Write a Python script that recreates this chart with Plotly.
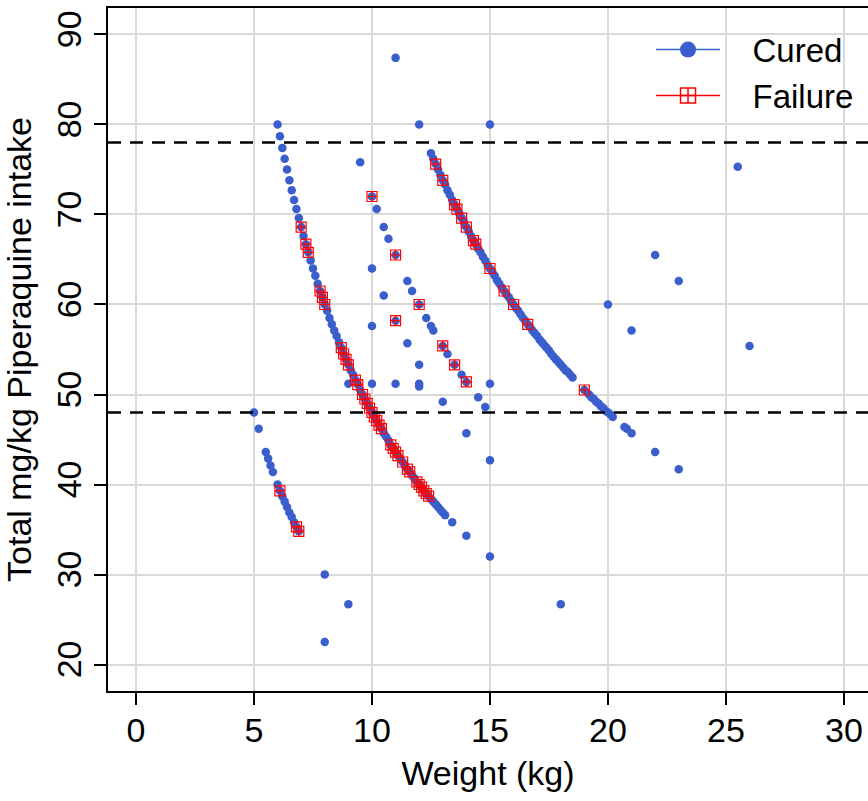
import plotly.graph_objects as go

# ---------------- data ----------------
# Cured patients: weight (kg) and total mg/kg piperaquine intake
cured_weight = [
    # main curve
    6.0, 6.1, 6.2, 6.3, 6.4, 6.5, 6.6, 6.7, 6.8, 6.9,
    7.0, 7.1, 7.2, 7.3, 7.4, 7.5, 7.6, 7.7, 7.8, 7.9,
    8.0, 8.1, 8.2, 8.3, 8.4, 8.5, 8.6, 8.7, 8.8, 8.9,
    9.0, 9.1, 9.2, 9.3, 9.4, 9.5, 9.6, 9.7, 9.8, 9.9,
    10.0, 10.1, 10.2, 10.3, 10.4, 10.5, 10.6, 10.7, 10.8, 10.9,
    11.0, 11.1, 11.2, 11.3, 11.4, 11.5, 11.6, 11.7, 11.8, 11.9,
    12.0, 12.1, 12.2, 12.3, 12.4, 12.5, 12.6, 12.7, 12.8, 12.9,
    13.0, 13.1, 13.4, 14.0, 15.0,
    # upper right curve
    12.5, 12.6, 12.7, 12.8, 12.9, 13.0, 13.1, 13.2, 13.3, 13.4,
    13.5, 13.6, 13.7, 13.8, 13.9, 14.0, 14.1, 14.2, 14.3, 14.4,
    14.5, 14.6, 14.7, 14.8, 14.9, 15.0, 15.1, 15.2, 15.3, 15.4,
    15.5, 15.6, 15.7, 15.8, 15.9, 16.0, 16.1, 16.2, 16.3, 16.4,
    16.5, 16.6, 16.7, 16.8, 16.9, 17.0, 17.1, 17.2, 17.3, 17.4,
    17.5, 17.6, 17.7, 17.8, 17.9, 18.0, 18.1, 18.2, 18.3, 18.4,
    18.5, 19.0, 19.2, 19.3, 19.4, 19.5, 19.6, 19.7, 19.8, 19.9,
    20.0, 20.1, 20.2, 20.7, 20.8, 21.0, 22.0, 23.0,
    # lower left curve
    5.0, 5.2, 5.5, 5.6, 5.7, 5.8, 6.0, 6.1, 6.2, 6.3,
    6.4, 6.5, 6.6, 6.7, 6.8, 6.9,
    # middle curve
    9.5, 10.0, 10.2, 10.5, 10.7, 11.0, 11.5, 11.7, 12.0, 12.3,
    12.5, 12.6, 13.0, 13.2, 13.5, 13.8, 14.0, 14.5, 14.8,
    # scattered
    11.0, 12.0, 15.0, 10.0, 10.0, 10.5, 11.0, 11.5, 12.0, 12.0,
    12.0, 11.0, 10.0, 9.0, 13.0, 14.0, 15.0, 15.0, 8.0, 9.0,
    8.0, 18.0, 20.0, 21.0, 22.0, 23.0, 25.5, 26.0,
]
cured_intake = [
    # main curve
    80.0, 78.7, 77.4, 76.2, 75.0, 73.8, 72.7, 71.6, 70.6, 69.6,
    68.6, 67.6, 66.7, 65.8, 64.9, 64.0, 63.2, 62.3, 61.5, 60.8,
    60.0, 59.3, 58.5, 57.8, 57.1, 56.5, 55.8, 55.2, 54.5, 53.9,
    53.3, 52.7, 52.2, 51.6, 51.1, 50.5, 50.0, 49.5, 49.0, 48.5,
    48.0, 47.5, 47.1, 46.6, 46.2, 45.7, 45.3, 44.9, 44.4, 44.0,
    43.6, 43.2, 42.9, 42.5, 42.1, 41.7, 41.4, 41.0, 40.7, 40.3,
    40.0, 39.7, 39.3, 39.0, 38.7, 38.4, 38.1, 37.8, 37.5, 37.2,
    36.9, 36.6, 35.8, 34.3, 32.0,
    # upper right curve
    76.8, 76.2, 75.6, 75.0, 74.4, 73.8, 73.3, 72.7, 72.2, 71.6,
    71.1, 70.6, 70.1, 69.6, 69.1, 68.6, 68.1, 67.6, 67.1, 66.7,
    66.2, 65.8, 65.3, 64.9, 64.4, 64.0, 63.6, 63.2, 62.7, 62.3,
    61.9, 61.5, 61.1, 60.8, 60.4, 60.0, 59.6, 59.3, 58.9, 58.5,
    58.2, 57.8, 57.5, 57.1, 56.8, 56.5, 56.1, 55.8, 55.5, 55.2,
    54.9, 54.5, 54.2, 53.9, 53.6, 53.3, 53.0, 52.7, 52.5, 52.2,
    51.9, 50.5, 50.0, 49.7, 49.5, 49.2, 49.0, 48.7, 48.5, 48.2,
    48.0, 47.8, 47.5, 46.4, 46.2, 45.7, 43.6, 41.7,
    # lower left curve
    48.0, 46.2, 43.6, 42.9, 42.1, 41.4, 40.0, 39.3, 38.7, 38.1,
    37.5, 36.9, 36.4, 35.8, 35.3, 34.8,
    # middle curve
    75.8, 72.0, 70.6, 68.6, 67.3, 65.5, 62.6, 61.5, 60.0, 58.5,
    57.6, 57.1, 55.4, 54.5, 53.3, 52.2, 51.4, 49.7, 48.6,
    # scattered
    87.4, 80.0, 80.0, 64.0, 57.6, 61.0, 58.2, 55.7, 53.3, 51.2,
    50.9, 51.2, 51.2, 51.2, 49.2, 45.7, 51.2, 42.7, 30.0, 26.7,
    22.5, 26.7, 60.0, 57.1, 65.5, 62.6, 75.3, 55.4,
]

# Treatment failures
failure_weight = [
    6.1, 6.8, 6.9,
    7.0, 7.2, 7.3, 7.8, 7.9, 8.0, 8.7, 8.8, 8.9, 9.0,
    9.3, 9.4, 9.6, 9.7, 9.8, 9.9, 10.0, 10.1, 10.2, 10.3,
    10.4, 10.8, 10.9, 11.0, 11.1, 11.3, 11.5, 11.6, 11.9, 12.0,
    12.1, 12.2, 12.3, 12.4,
    10.0, 11.0, 11.0, 12.0, 13.0, 13.5, 14.0,
    12.7, 13.0, 13.5, 13.6, 13.8, 14.0, 14.3, 14.4, 15.0, 15.6,
    16.0, 16.6, 19.0,
]
failure_intake = [
    39.3, 35.3, 34.8,
    68.6, 66.7, 65.8, 61.5, 60.8, 60.0, 55.2, 54.5, 53.9, 53.3,
    51.6, 51.1, 50.0, 49.5, 49.0, 48.5, 48.0, 47.5, 47.1, 46.6,
    46.2, 44.4, 44.0, 43.6, 43.2, 42.5, 41.7, 41.4, 40.3, 40.0,
    39.7, 39.3, 39.0, 38.7,
    72.0, 65.5, 58.2, 60.0, 55.4, 53.3, 51.4,
    75.6, 73.8, 71.1, 70.6, 69.6, 68.6, 67.1, 66.7, 64.0, 61.5,
    60.0, 57.8, 50.5,
]

thresholds = [78, 48]
x_ticks = [0, 5, 10, 15, 20, 25, 30]
y_ticks = [20, 30, 40, 50, 60, 70, 80, 90]
legend_names = ["Cured", "Failure"]

BLUE = "#3A5FCD"
RED = "#FF0000"
FONT = "Liberation Sans, Arial, sans-serif"
NB = "\u00a0\u00a0\u00a0"

fig = go.Figure()

fig.add_trace(go.Scatter(
    x=cured_weight, y=cured_intake, mode="markers", name=legend_names[0],
    marker=dict(symbol="circle", size=8.5, color=BLUE, line=dict(width=0)),
    showlegend=False,
))
fig.add_trace(go.Scatter(
    x=failure_weight, y=failure_intake, mode="markers", name=legend_names[1],
    marker=dict(symbol="square-cross-open", size=10, color=RED,
                line=dict(width=1.2, color=RED)),
    showlegend=False,
))
# legend entries
fig.add_trace(go.Scatter(
    x=[None], y=[None], mode="lines+markers", name=NB + legend_names[0],
    marker=dict(symbol="circle", size=16, color=BLUE),
    line=dict(color=BLUE, width=1.5),
))
fig.add_trace(go.Scatter(
    x=[None], y=[None], mode="lines+markers", name=NB + legend_names[1],
    marker=dict(symbol="square-cross-open", size=15, color=RED,
                line=dict(width=1.5, color=RED)),
    line=dict(color=RED, width=1.5),
))

for t in thresholds:
    fig.add_hline(y=t, line=dict(color="black", width=2.5, dash="13px,9px"))

fig.update_layout(
    width=868, height=801,
    margin=dict(l=108, r=0, t=8, b=110),
    paper_bgcolor="white", plot_bgcolor="white",
    font=dict(family=FONT, size=34, color="black"),
    legend=dict(
        x=0.7145, y=0.98, xanchor="left", yanchor="top",
        bgcolor="rgba(0,0,0,0)", borderwidth=0,
        font=dict(size=33), itemwidth=64, tracegroupgap=0,
    ),
    xaxis=dict(
        range=[-1.186, 31.02], tickvals=x_ticks, ticktext=[str(v) for v in x_ticks],
        showgrid=True, gridcolor="#D9D9D9", gridwidth=1.5, automargin=False,
        zeroline=False, showline=True, linecolor="black", linewidth=1.5,
        mirror=True, ticks="outside", ticklen=12, tickwidth=1.5, tickcolor="black",
        tickfont=dict(size=34), ticklabelstandoff=-4,
        title=dict(text="Weight (kg)", font=dict(size=34), standoff=14),
    ),
    yaxis=dict(
        range=[17.06, 92.94], tickvals=y_ticks, ticktext=[str(v) for v in y_ticks],
        showgrid=True, gridcolor="#D9D9D9", gridwidth=1.5, automargin=False,
        zeroline=False, showline=True, linecolor="black", linewidth=1.5,
        mirror=False, ticks="outside", ticklen=12, tickwidth=1.5, tickcolor="black",
        tickangle=-90, tickfont=dict(size=34),
        title=dict(text="Total mg/kg Piperaquine intake", font=dict(size=34), standoff=8),
    ),
)

fig.write_html(
    "out.html",
    config={"displayModeBar": False},
    post_script="document.body.style.margin='0';document.body.style.overflow='hidden';",
)
